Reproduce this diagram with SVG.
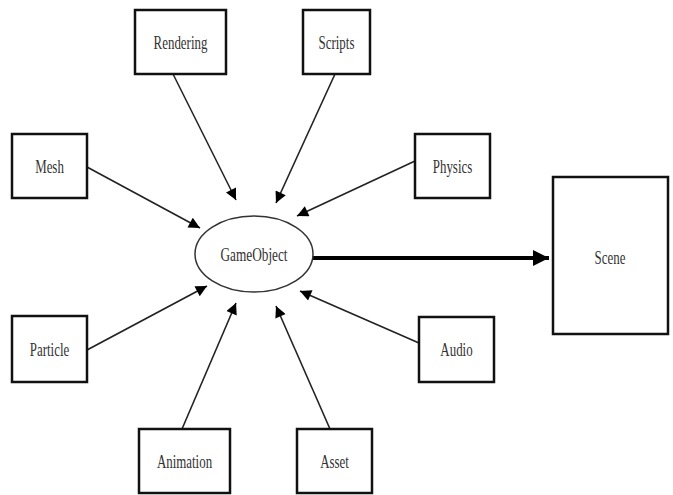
<svg xmlns="http://www.w3.org/2000/svg" width="673" height="495" viewBox="0 0 673 495">
<style>
.box{fill:#fff;stroke:#111;stroke-width:2.5}
.lbl{font-family:"Liberation Serif","Times New Roman",serif;font-size:19px;fill:#333;text-anchor:middle}
.con{stroke:#222;stroke-width:1.6;fill:none;marker-end:url(#ah)}
.thick{stroke:#000;stroke-width:4;fill:none;marker-end:url(#ahb)}
</style>
<defs>
<marker id="ah" viewBox="0 0 10 10" refX="10" refY="5" markerWidth="9" markerHeight="7" markerUnits="strokeWidth" orient="auto"><path d="M0,0 L10,5 L0,10 z" fill="#000"/></marker>
<marker id="ahb" viewBox="0 0 10 10" refX="10" refY="5" markerWidth="4" markerHeight="4.3" markerUnits="strokeWidth" orient="auto"><path d="M0,0 L10,5 L0,10 z" fill="#000"/></marker>
</defs>
<rect width="673" height="495" fill="#fff"/>
<g id="connectors">
<line class="con" x1="173" y1="74" x2="236" y2="200"/>
<line class="con" x1="335" y1="74" x2="276" y2="203"/>
<line class="con" x1="87" y1="167" x2="200" y2="228"/>
<line class="con" x1="415" y1="161" x2="297" y2="216"/>
<line class="con" x1="87" y1="350" x2="207" y2="286"/>
<line class="con" x1="419" y1="343" x2="300" y2="291"/>
<line class="con" x1="182" y1="429" x2="236" y2="303"/>
<line class="con" x1="330" y1="429" x2="276" y2="306"/>
<line class="thick" x1="313" y1="258" x2="549" y2="258"/>
</g>
<g id="gameobject"><ellipse cx="254" cy="254" rx="59" ry="38" fill="#fff" stroke="#333" stroke-width="1.5"/><text class="lbl" transform="translate(254,261) scale(0.7,1)">GameObject</text></g>
<g id="rendering"><rect class="box" x="135" y="10" width="91" height="64"/><text class="lbl" transform="translate(180.5,49) scale(0.68,1)">Rendering</text></g>
<g id="scripts"><rect class="box" x="303" y="10" width="67" height="64"/><text class="lbl" transform="translate(336.5,49) scale(0.68,1)">Scripts</text></g>
<g id="mesh"><rect class="box" x="12" y="134" width="75" height="64"/><text class="lbl" transform="translate(49.5,173) scale(0.68,1)">Mesh</text></g>
<g id="physics"><rect class="box" x="415" y="134" width="75" height="64"/><text class="lbl" transform="translate(452.5,173) scale(0.68,1)">Physics</text></g>
<g id="scene"><rect class="box" x="553" y="177" width="115" height="157" stroke-width="3"/><text class="lbl" transform="translate(610,264) scale(0.68,1)">Scene</text></g>
<g id="particle"><rect class="box" x="12" y="316" width="75" height="66"/><text class="lbl" transform="translate(49.5,356) scale(0.68,1)">Particle</text></g>
<g id="audio"><rect class="box" x="419" y="317" width="75" height="65"/><text class="lbl" transform="translate(456.5,356) scale(0.68,1)">Audio</text></g>
<g id="animation"><rect class="box" x="139" y="429" width="91" height="64"/><text class="lbl" transform="translate(184.5,468) scale(0.68,1)">Animation</text></g>
<g id="asset"><rect class="box" x="297" y="429" width="75" height="64"/><text class="lbl" transform="translate(334.5,468) scale(0.68,1)">Asset</text></g>
</svg>
